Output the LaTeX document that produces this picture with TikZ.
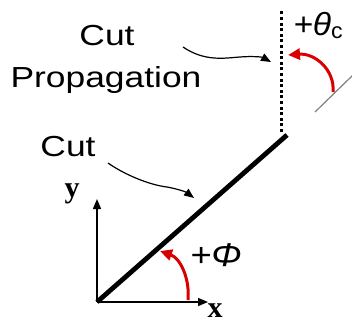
\documentclass[tikz,border=0pt]{standalone}
\usepackage{fontspec}
\setmainfont{Liberation Sans}
\newfontfamily\serifb{Liberation Serif}
\usetikzlibrary{arrows.meta}
\tikzset{
  lbl/.style={inner sep=0pt, font=\fontsize{29}{31}\selectfont},
  axislbl/.style={inner sep=0pt, font=\serifb\bfseries\fontsize{30}{32}\selectfont},
  axis/.style={line width=1.5pt, -{Triangle[length=10pt,width=8pt]}},
  pointer/.style={line width=1.2pt, -{Triangle[length=10pt,width=8pt]}},
  redarc/.style={red!85!black, line width=3pt, -{Triangle[length=12pt,width=11pt]}},
  cutline/.style={line width=4.8pt},
  dotline/.style={line width=3pt, dash pattern=on 3pt off 2.6pt},
}
\begin{document}
\begin{tikzpicture}[x=1pt,y=-1pt]
\useasboundingbox[fill=white] (0,0) rectangle (352,325);
% coordinates
\coordinate (O) at (97,302);
\coordinate (X) at (208,302);
\coordinate (Y) at (97,199);
\coordinate (E) at (287,135);
\coordinate (Dtop) at (281,11);
\coordinate (Dbot) at (281,132);
\coordinate (G1) at (315,112);
\coordinate (G2) at (354,74);
% axes
\draw[axis] (O) -- (X);
\draw[axis] (O) -- (Y);
% cut
\draw[cutline] (O) -- (E);
\draw[dotline] (Dbot) -- (Dtop);
% gray reference line
\draw[gray, line width=1.2pt] (G1) -- (G2);
% labels
\node[axislbl] (xl) at (215,311) {x};
\node[axislbl] (yl) at (72,194) {y};
\node[lbl, anchor=base] (cp1) at (107,45) {\scalebox{1.22}[1]{Cut}};
\node[lbl, anchor=base] (cp2) at (106,87) {\scalebox{1.22}[1]{Propagation}};
\node[lbl, anchor=base] (cut) at (68,156) {\scalebox{1.22}[1]{Cut}};
\node[lbl, anchor=base, font=\fontsize{33}{35}\selectfont] (phi) at (216,266) {\scalebox{1.1}[1]{\itshape +Φ}};
\node[lbl, anchor=base, font=\fontsize{32}{34}\selectfont] (theta) at (318,35) {\scalebox{1.05}[1]{\itshape +θ\fontsize{22}{24}\selectfont\upshape\raisebox{-3pt}{c}}};
% pointer arrows
\coordinate (p1s) at (183,47);
\coordinate (p1e) at (271,62);
\draw[pointer] (p1s) .. controls (205,62) and (225,58) .. (240,57) .. controls (252,56) and (262,57) .. (p1e);
\coordinate (p2s) at (108,163);
\coordinate (p2e) at (194,198);
\draw[pointer] (p2s) .. controls (125,175) and (150,185) .. (167,187) .. controls (178,189) and (186,192) .. (p2e);
% red arcs
\coordinate (r1s) at (188,300);
\coordinate (r1e) at (160,251);
\draw[redarc] (r1s) .. controls (190,278) and (180,258) .. (r1e);
\coordinate (r2s) at (333,92);
\coordinate (r2e) at (288,55);
\draw[redarc] (r2s) .. controls (335,70) and (315,53) .. (r2e);
\end{tikzpicture}
\end{document}
